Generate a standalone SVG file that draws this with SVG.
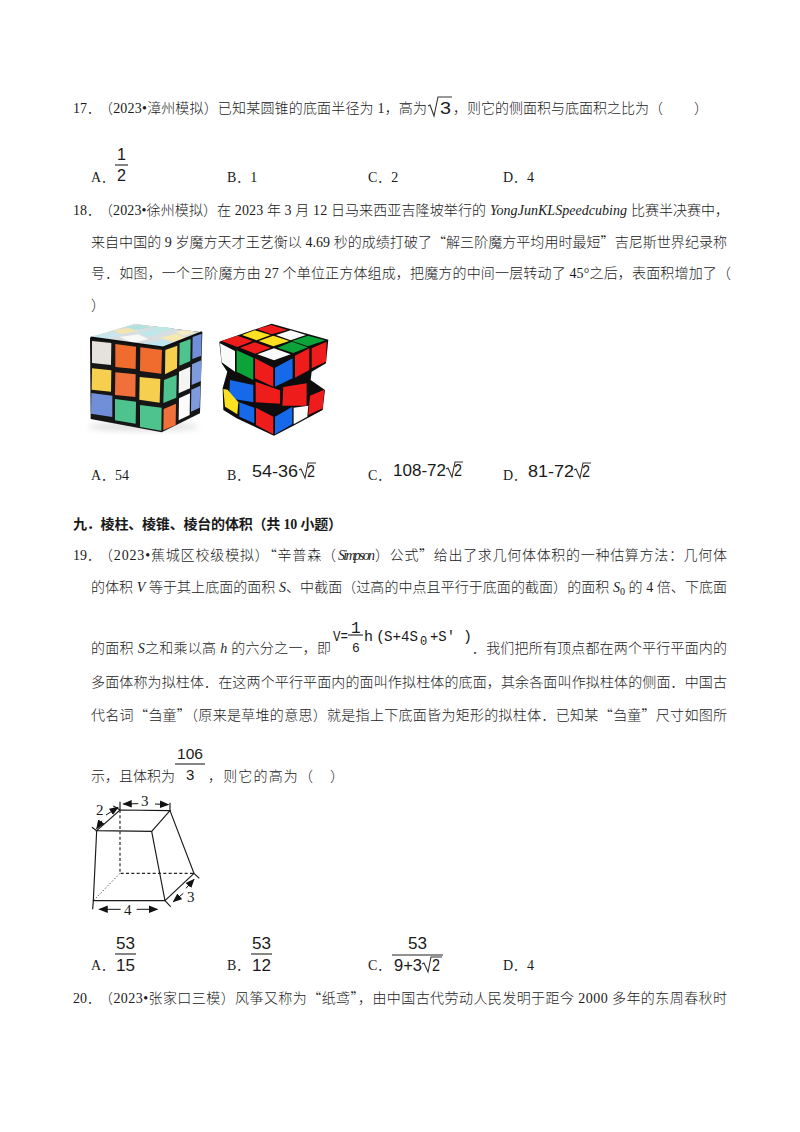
<svg xmlns="http://www.w3.org/2000/svg" width="800" height="1132" viewBox="0 0 800 1132">
<style>
text{font-family:"Liberation Serif","Noto Sans CJK SC",serif;font-size:14px;font-weight:300;fill:#1a1a1a;white-space:pre}
.b{font-weight:700}
.i{font-style:italic}
.q{font-family:"Noto Sans CJK SC",sans-serif}
.m{font-family:"Liberation Sans","Noto Sans CJK SC",sans-serif;font-size:17px;font-weight:400}
.f{font-family:"Liberation Mono","Noto Sans CJK SC",monospace;font-size:15px;font-weight:400}
.l{stroke:#222;stroke-width:1.1;fill:none}
.s{stroke:#333;stroke-width:1.1;fill:none}
.d{stroke:#1a1a1a;stroke-width:3.5;fill:none}
.da{stroke:#222;stroke-width:3.5;fill:none;stroke-dasharray:9 7}
.c{font-size:15px}
</style>
<defs>
<filter id="soft" x="-10%" y="-10%" width="120%" height="120%"><feGaussianBlur stdDeviation="1.8"/></filter>
<filter id="shadow" x="-20%" y="-50%" width="140%" height="200%"><feGaussianBlur stdDeviation="10"/></filter>
<marker id="ah" viewBox="0 0 10 10" refX="9" refY="5" markerWidth="28" markerHeight="28" markerUnits="userSpaceOnUse" orient="auto"><path d="M0 1L10 5L0 9z" fill="#111"/></marker>
</defs>
<rect width="800" height="1132" fill="#fff"/>

<g id="q17">
<text x="73" y="113">17．</text>
<text x="99" y="113" textLength="328">（2023•漳州模拟）已知某圆锥的底面半径为 1，高为</text>
<path class="s" d="M428 106l2-1 4 11 4-19h14"/>
<text class="m" x="440" y="114" textLength="11" lengthAdjust="spacingAndGlyphs">3</text>
<text x="453" y="113" textLength="210">，则它的侧面积与底面积之比为（</text>
<text x="694" y="113">）</text>
<text x="91" y="182">A．</text>
<text class="m" x="117" y="160" textLength="9" lengthAdjust="spacingAndGlyphs">1</text><path class="l" d="M115 165h13"/><text class="m" x="117" y="181" textLength="9" lengthAdjust="spacingAndGlyphs">2</text>
<text x="227" y="182">B．1</text>
<text x="368" y="182">C．2</text>
<text x="503" y="182">D．4</text>
</g>

<g id="q18">
<text x="73" y="215">18．</text>
<text x="99" y="215" textLength="387">（2023•徐州模拟）在 2023 年 3 月 12 日马来西亚吉隆坡举行的</text>
<text class="i" x="490" y="215" textLength="137">YongJunKLSpeedcubing</text>
<text x="631" y="215" textLength="98">比赛半决赛中，</text>
<text x="91" y="247" textLength="636">来自中国的 9 岁魔方天才王艺衡以 4.69 秒的成绩打破了<tspan class="q">“</tspan>解三阶魔方平均用时最短<tspan class="q">”</tspan>吉尼斯世界纪录称</text>
<text x="91" y="278" textLength="640">号．如图，一个三阶魔方由 27 个单位正方体组成，把魔方的中间一层转动了 45°之后，表面积增加了（</text>
<text x="91" y="310">）</text>
</g>

<g id="cube-left" transform="translate(80 315) scale(.3333)">
<ellipse cx="190" cy="335" rx="165" ry="12" fill="#ddd" filter="url(#shadow)"/>
<g filter="url(#soft)">
<polygon points="30,68 165,28 367,52 360,295 245,352 32,312" fill="#151515"/>
<polygon points="32,66 165,26 366,52 250,98" fill="#d8dde0"/>
<polygon points="40,62 100,50 125,62 60,74" fill="#c8e6ee"/>
<polygon points="100,46 150,38 175,47 125,58" fill="#f2e6b0"/>
<polygon points="135,35 185,30 210,38 165,45" fill="#aee3e0"/>
<polygon points="118,66 175,58 205,72 160,84" fill="#f8f8f6"/>
<polygon points="170,52 225,44 250,52 205,66" fill="#bfe6ec"/>
<polygon points="205,37 260,35 285,44 240,50" fill="#bfe6e2"/>
<polygon points="190,86 250,74 280,86 240,100" fill="#bfe6f0"/>
<polygon points="240,68 290,56 315,68 280,80" fill="#f5e8b0"/>
<polygon points="285,50 325,46 345,52 310,62" fill="#f5ecc0"/>
<path d="M32 68L250 98L366 52" fill="none" stroke="#111" stroke-width="7"/>
<polygon points="36,78 94,84 93,150 36,144" fill="#e4e2da"/>
<polygon points="106,87 168,95 167,162 106,156" fill="#ef6c2e"/>
<polygon points="181,97 246,105 244,176 180,168" fill="#ef6c2e"/>
<polygon points="36,160 94,166 93,230 35,224" fill="#f7cf50"/>
<polygon points="106,172 167,178 166,246 105,240" fill="#f0703a"/>
<polygon points="179,186 241,192 239,263 178,254" fill="#f7cf50"/>
<polygon points="34,234 97,242 97,306 33,296" fill="#6f8fd8"/>
<polygon points="105,252 168,260 167,326 105,316" fill="#4fc38e"/>
<polygon points="180,270 245,278 244,347 180,336" fill="#4fc38e"/>
<polygon points="256,105 292,92 291,160 255,178" fill="#f7cf50"/>
<polygon points="252,195 290,180 289,248 250,264" fill="#4fc38e"/>
<polygon points="251,282 288,266 287,330 250,346" fill="#f0703a"/>
<polygon points="299,84 332,72 331,138 298,152" fill="#4fc38e"/>
<polygon points="297,170 331,155 330,220 296,235" fill="#f4f4f2"/>
<polygon points="297,250 330,235 329,300 296,316" fill="#fbfbfb"/>
<polygon points="338,66 365,56 364,122 337,132" fill="#6f8fd8"/>
<polygon points="336,148 364,136 363,198 335,210" fill="#7d9bdc"/>
<polygon points="334,224 361,212 359,278 333,290" fill="#7d9bdc"/>
</g>
</g>

<g id="cube-right" transform="translate(80 315) scale(.3333)">
<g filter="url(#soft)">
<polygon points="418,80 575,26 745,74 738,145 695,170 692,195 735,225 728,285 640,332 582,362 470,310 430,285 428,220 442,170 425,145" fill="#0a0a0a"/>
<polygon points="574,30 622,45 575,58 530,42" fill="#ef1e1e"/>
<polygon points="524,46 572,60 530,76 486,60" fill="#fde021"/>
<polygon points="632,46 678,60 632,76 588,60" fill="#fafafa"/>
<polygon points="472,62 518,78 472,96 424,78" fill="#ef1e1e"/>
<polygon points="580,62 628,78 580,94 536,78" fill="#fde021"/>
<polygon points="684,62 736,76 684,94 636,78" fill="#0fa33a"/>
<polygon points="524,82 572,98 526,116 480,98" fill="#ef1e1e"/>
<polygon points="636,80 684,97 640,114 592,98" fill="#0fa33a"/>
<polygon points="582,100 632,118 582,136 532,118" fill="#fafafa"/>
<polygon points="420,85 465,108 465,170 425,142" fill="#fafafa"/>
<polygon points="470,106 520,128 520,195 470,170" fill="#0fa33a"/>
<polygon points="525,130 580,158 580,215 525,190" fill="#ef1e1e"/>
<polygon points="585,158 638,130 638,190 585,215" fill="#1569e8"/>
<polygon points="645,122 688,100 688,165 645,188" fill="#ef1e1e"/>
<polygon points="695,100 740,80 738,140 695,160" fill="#ef1e1e"/>
<polygon points="450,195 520,210 520,262 447,250" fill="#1569e8"/>
<polygon points="527,200 600,226 600,266 527,262" fill="#ef1e1e"/>
<polygon points="610,216 680,205 680,272 607,272" fill="#ef1e1e"/>
<polygon points="690,242 733,224 728,280 685,300" fill="#ef1e1e"/>
<polygon points="430,222 443,224 475,262 472,298 435,275" fill="#fde021"/>
<polygon points="478,262 523,278 523,325 478,305" fill="#1569e8"/>
<polygon points="528,278 580,305 580,358 528,330" fill="#ef1e1e"/>
<polygon points="585,305 637,275 637,328 585,358" fill="#1569e8"/>
<polygon points="641,278 685,272 682,305 641,328" fill="#fafafa"/>
</g>
</g>

<g id="q18-options">
<text x="91" y="480">A．54</text>
<text x="227" y="480">B．</text>
<text class="m" x="252" y="477" textLength="46" lengthAdjust="spacingAndGlyphs">54-36</text>
<path class="s" d="M299 470l2-1 4 9 3-15h8"/><text class="m" x="307" y="477" textLength="8" lengthAdjust="spacingAndGlyphs">2</text>
<text x="368" y="480">C．</text>
<text class="m" x="393" y="476" textLength="53" lengthAdjust="spacingAndGlyphs">108-72</text>
<path class="s" d="M446 469l2-1 4 9 3-15h8"/><text class="m" x="454" y="476" textLength="8" lengthAdjust="spacingAndGlyphs">2</text>
<text x="503" y="480">D．</text>
<text class="m" x="528" y="477" textLength="46" lengthAdjust="spacingAndGlyphs">81-72</text>
<path class="s" d="M574 470l2-1 4 9 3-15h8"/><text class="m" x="582" y="477" textLength="8" lengthAdjust="spacingAndGlyphs">2</text>
</g>

<g id="heading">
<text class="b" x="73" y="529" textLength="269">九．棱柱、棱锥、棱台的体积（共 10 小题）</text>
</g>

<g id="q19">
<text x="73" y="560">19．</text>
<text x="99" y="560" textLength="237">（2023•蕉城区校级模拟）<tspan class="q">“</tspan>辛普森（</text>
<text class="i" x="338" y="560" textLength="37">Simpson</text>
<text x="375" y="560" textLength="352">）公式<tspan class="q">”</tspan>给出了求几何体体积的一种估算方法：几何体</text>
<text x="91" y="592" textLength="636">的体积 <tspan class="i">V</tspan> 等于其上底面的面积 <tspan class="i">S</tspan>、中截面（过高的中点且平行于底面的截面）的面积 <tspan class="i">S</tspan><tspan dy="3" font-size="10">0</tspan><tspan dy="-3"> 的 4 倍、下底面</tspan></text>
<text x="91" y="653" textLength="240">的面积 <tspan class="i">S</tspan>之和乘以高 <tspan class="i">h</tspan> 的六分之一，即</text>
<text class="f" x="333" y="641" textLength="15" lengthAdjust="spacingAndGlyphs">V=</text>
<text class="f" x="351" y="633" style="font-size:16px">1</text><path class="l" d="M348 635h15"/><text class="f" x="352" y="652" style="font-size:13px">6</text>
<text class="f" x="364" y="641">h</text>
<text class="f" x="376" y="641">(</text>
<text class="f" x="384" y="641" textLength="34" lengthAdjust="spacingAndGlyphs">S+4S</text>
<text class="f" x="420" y="645" style="font-size:12px">0</text>
<text class="f" x="430" y="641" textLength="25" lengthAdjust="spacingAndGlyphs">+S′</text>
<text class="f" x="463" y="641">)</text>
<text x="472" y="653" textLength="255">．我们把所有顶点都在两个平行平面内的</text>
<text x="91" y="687" textLength="636">多面体称为拟柱体．在这两个平行平面内的面叫作拟柱体的底面，其余各面叫作拟柱体的侧面．中国古</text>
<text x="91" y="720" textLength="636">代名词<tspan class="q">“</tspan>刍童<tspan class="q">”</tspan>（原来是草堆的意思）就是指上下底面皆为矩形的拟柱体．已知某<tspan class="q">“</tspan>刍童<tspan class="q">”</tspan>尺寸如图所</text>
<text x="91" y="781" textLength="84">示，且体积为</text>
<text class="m" x="177" y="759" textLength="26" lengthAdjust="spacingAndGlyphs" style="font-size:15px">106</text><path class="l" d="M175 764h30"/><text class="m" x="186" y="780" style="font-size:15px">3</text>
<text x="208" y="781" textLength="105">，则它的高为（</text>
<text x="330" y="781">）</text>
</g>

<g id="solid" transform="translate(80 790) scale(.3333)">
<path class="d" d="M120 60L270 62L215 124L50 122Z"/>
<path class="d" d="M50 122L40 332H255L215 124M270 62L342 250L255 332"/>
<path class="da" d="M120 60V250H342"/>
<path d="M120 250L40 332" stroke="#222" stroke-width="2.5" fill="none" stroke-dasharray="4 6"/>
<path class="d" d="M120 35V60M270 38V62M40 332L38 358M255 332L272 350M342 250L358 265M36 112L50 122M100 48L120 60"/>
<g stroke="#111" stroke-width="3" fill="none">
<path d="M175 41L130 42" marker-end="url(#ah)"/>
<path d="M225 42L265 44" marker-end="url(#ah)"/>
<path d="M66 92L50 116" marker-end="url(#ah)"/>
<path d="M78 75L114 52" marker-end="url(#ah)"/>
<path d="M122 358H58" marker-end="url(#ah)"/>
<path d="M170 358H232" marker-end="url(#ah)"/>
<path d="M318 295L342 268" marker-end="url(#ah)"/>
<path d="M310 310L280 335" marker-end="url(#ah)"/>
</g>
</g>
<g id="solid-labels">
<text class="c" x="141" y="806">3</text>
<text class="c" x="96" y="815">2</text>
<text class="c" x="124" y="915">4</text>
<text class="c" x="187" y="902">3</text>
</g>

<g id="q19-options">
<text x="91" y="970">A．</text>
<text class="m" x="116" y="949" textLength="19" lengthAdjust="spacingAndGlyphs">53</text><path class="l" d="M115 954h21"/><text class="m" x="116" y="971" textLength="19" lengthAdjust="spacingAndGlyphs">15</text>
<text x="227" y="970">B．</text>
<text class="m" x="252" y="949" textLength="19" lengthAdjust="spacingAndGlyphs">53</text><path class="l" d="M251 954h21"/><text class="m" x="252" y="971" textLength="19" lengthAdjust="spacingAndGlyphs">12</text>
<text x="368" y="970">C．</text>
<text class="m" x="408" y="949" textLength="19" lengthAdjust="spacingAndGlyphs">53</text><path class="l" d="M392 955h51"/>
<text class="m" x="394" y="971" textLength="28" lengthAdjust="spacingAndGlyphs">9+3</text>
<path class="s" d="M422 964l2-1 4 9 3-15h11"/><text class="m" x="432" y="971" textLength="8" lengthAdjust="spacingAndGlyphs">2</text>
<text x="503" y="970">D．4</text>
</g>

<g id="q20">
<text x="73" y="1003">20．</text>
<text x="99" y="1003" textLength="628">（2023•张家口三模）风筝又称为<tspan class="q">“</tspan>纸鸢<tspan class="q">”</tspan>，由中国古代劳动人民发明于距今 2000 多年的东周春秋时</text>
</g>
</svg>
